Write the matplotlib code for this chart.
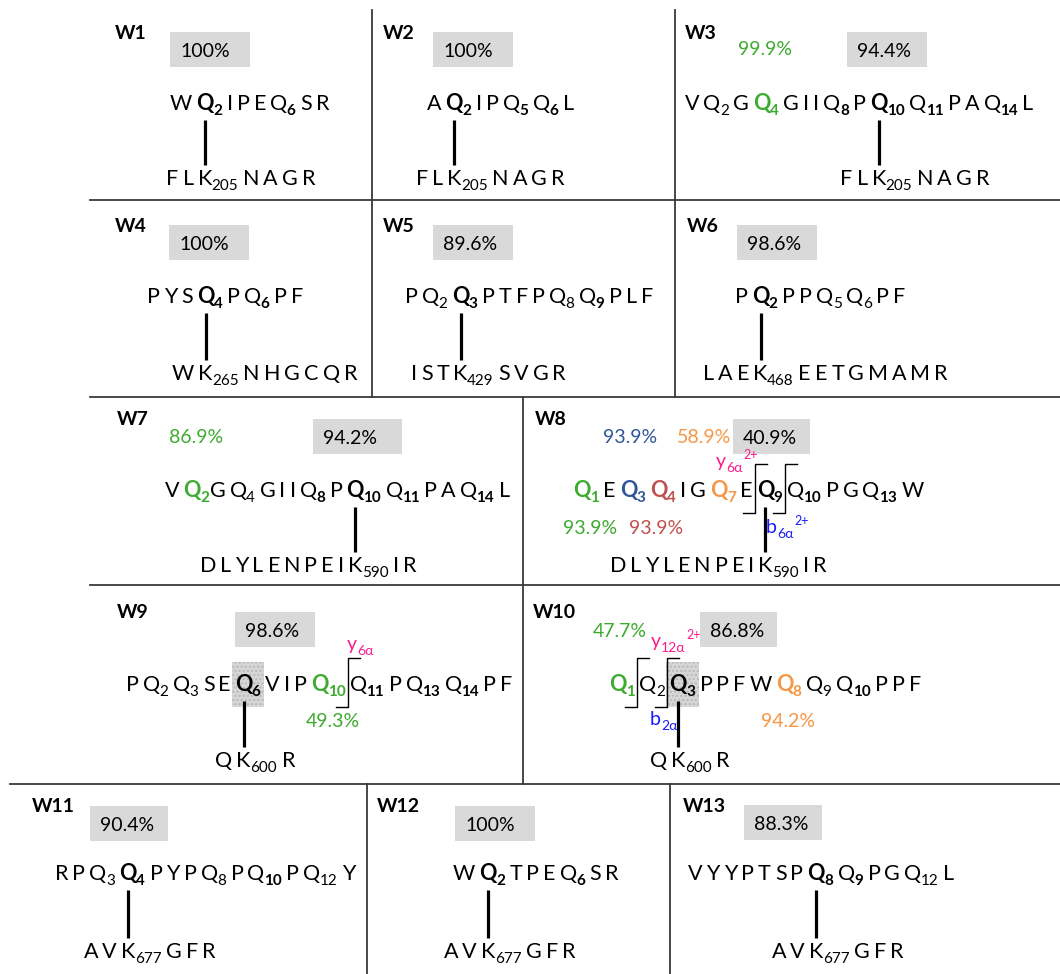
import matplotlib
matplotlib.use('Agg')
import matplotlib.pyplot as plt
from matplotlib.font_manager import FontProperties
from matplotlib.patches import Rectangle

FAMILY = ['Lato', 'DejaVu Sans']
plt.rcParams['font.family'] = FAMILY

COLORS = {'k': 'black', 'g': '#3dab2f', 'b': '#2f5597', 'r': '#c0504d',
          'o': '#f79646', 'p': '#ff1a8c', 'u': '#1a1aff'}

# ---- data ----
# token syntax: "!" bold residue, "_n" subscript, "=n" bold subscript, ":c" colour,
# "~" = no space after the token
panels = ['W1', 'W2', 'W3', 'W4', 'W5', 'W6', 'W7', 'W8', 'W9', 'W10', 'W11', 'W12', 'W13']
top_seqs = [
    'W !Q=2 I P E Q=6 S R',
    'A !Q=2 I P Q=5 Q=6 L',
    'V Q_2 G !Q=4:g G I I Q=8 P !Q=10 Q=11 P A Q=14 L',
    'P Y S !Q=4 P Q=6 P F',
    'P Q_2 !Q=3 P T F P Q_8 Q=9 P L F',
    'P !Q=2 P P Q_5 Q_6 P F',
    'V !Q=2:g~ G Q_4 G I I Q=8 P !Q=10 Q=11 P A Q=14 L',
    '!Q=1:g E !Q=3:b !Q=4:r I G !Q=7:o E !Q=9 Q=10 P G Q=13 W',
    'P Q_2 Q_3 S E !Q=6 V I P !Q=10:g Q=11 P Q=13 Q=14 P F',
    '!Q=1:g Q_2 !Q=3 P P F W !Q=8:o Q_9 Q=10 P P F',
    'R P Q_3 !Q=4 P Y P Q_8 P Q=10 P Q_12 Y',
    'W !Q=2 T P E Q=6 S R',
    'V Y Y P T S P !Q=8 Q=9 P G Q_12 L',
]
bottom_seqs = [
    'F L K_205 N A G R', 'F L K_205 N A G R', 'F L K_205 N A G R',
    'W K_265 N H G C Q R', 'I S T K_429 S V G R', 'L A E K_468 E E T G M A M R',
    'D L Y L E N P E I K_590 I R', 'D L Y L E N P E I K_590 I R',
    'Q K_600 R', 'Q K_600 R',
    'A V K_677 G F R', 'A V K_677 G F R', 'A V K_677 G F R',
]
top_link = [1, 1, 9, 3, 2, 1, 9, 8, 5, 2, 3, 1, 7]
bottom_link = [2, 2, 2, 1, 3, 3, 9, 9, 1, 1, 2, 2, 2]
box_values = ['100%', '100%', '94.4%', '100%', '89.6%', '98.6%', '94.2%',
              '40.9%', '98.6%', '86.8%', '90.4%', '100%', '88.3%']
# other site occupancies: (panel, text, colour)
site_values = [(2, '99.9%', 'g'), (6, '86.9%', 'g'), (7, '93.9%', 'b'), (7, '58.9%', 'o'),
               (7, '93.9%', 'g'), (7, '93.9%', 'r'), (8, '49.3%', 'g'),
               (9, '47.7%', 'g'), (9, '94.2%', 'o')]
# fragment ions: (panel, ion, subscript, superscript, colour)
ions = [(7, 'y', '6α', '2+', 'p'), (7, 'b', '6α', '2+', 'u'), (8, 'y', '6α', '', 'p'),
        (9, 'y', '12α', '2+', 'p'), (9, 'b', '2α', '', 'u')]
# cleavage marks: (panel, token index the cut follows)
cuts = [(7, 7), (7, 8), (8, 9), (9, 0), (9, 1)]
highlights = [(8, 5), (9, 2)]

# ---- layout (pixels) ----
label_xy = [(115, 39), (383, 39), (685, 39), (115, 232), (383, 232), (687, 232),
            (117, 425), (535, 425), (117, 618), (533, 618), (32, 812), (377, 812), (683, 812)]
box_xy = [(170, 32), (433, 32), (847, 32), (169, 225), (433, 225), (737, 225),
          (313, 419), (733, 419), (235, 612), (700, 612), (90, 806), (455, 806), (744, 805)]
box_w = [80, 80, 80, 80, 80, 80, 89, 77, 80, 77, 78, 80, 78]
seq_xy = [(170, 110), (427, 110), (685, 110), (147, 303), (405, 303), (735, 303),
          (165, 497), (573, 497), (126, 691), (609, 691), (55, 880), (453, 880), (688, 880)]
bottom_y = [185, 185, 185, 380, 380, 380, 572, 572, 767, 767, 958, 958, 958]
site_xy = [(738, 55), (169, 443), (603, 443), (677, 443), (563, 534), (629, 534),
           (306, 727), (593, 637), (761, 727)]
ion_xy = [(716, 467), (766, 533), (347, 650), (651, 647), (650, 725)]

SEQ, SUB, PCT, LAB = 15.5, 11, 14, 14
GAP = 4

fig = plt.figure(figsize=(10.6, 9.74), dpi=100)
ax = fig.add_axes([0, 0, 1, 1])
ax.set_xlim(0, 1060)
ax.set_ylim(974, 0)
ax.axis('off')
renderer = fig.canvas.get_renderer()


def width(s, size, bold=False):
    fp = FontProperties(family=FAMILY, size=size, weight='bold' if bold else 'normal')
    return renderer.get_text_width_height_descent(s, fp, ismath=False)[0]


def parse(tok):
    tight = tok.endswith('~')
    tok = tok.rstrip('~')
    color = 'k'
    if ':' in tok:
        tok, color = tok.split(':')
    bold = tok.startswith('!')
    tok = tok.lstrip('!')
    sub, subbold = '', False
    if '=' in tok:
        tok, sub = tok.split('=')
        subbold = True
    elif '_' in tok:
        tok, sub = tok.split('_')
    return tok, bold, sub, subbold, COLORS[color], tight


def place(seq):
    items, x = [], 0
    for tok in seq.split():
        letter, bold, sub, subbold, color, tight = parse(tok)
        wl = width(letter, SEQ, bold)
        ws = width(sub, SUB, subbold) if sub else 0
        items.append(dict(letter=letter, bold=bold, sub=sub, subbold=subbold,
                          color=color, x=x, wl=wl, ws=ws))
        x += wl + ws + (0 if tight else GAP)
    return items


def draw_seq(items, x0, y):
    for it in items:
        ax.text(x0 + it['x'], y, it['letter'], fontsize=SEQ, color=it['color'],
                fontweight='bold' if it['bold'] else 'normal', va='baseline', ha='left')
        if it['sub']:
            ax.text(x0 + it['x'] + it['wl'] - 0.5, y + 5, it['sub'], fontsize=SUB,
                    color=it['color'], fontweight='bold' if it['subbold'] else 'normal',
                    va='baseline', ha='left')


# grid
grid = dict(color='#3a3a3a', lw=1.3)
ax.plot([372, 372], [10, 397], **grid)
ax.plot([675, 675], [10, 397], **grid)
ax.plot([90, 1060], [200, 200], **grid)
ax.plot([90, 1060], [397, 397], **grid)
ax.plot([523, 523], [397, 784], **grid)
ax.plot([90, 1060], [585, 585], **grid)
ax.plot([10, 1060], [784, 784], **grid)
ax.plot([367, 367], [784, 974], **grid)
ax.plot([670, 670], [784, 974], **grid)

layouts = []
for i, name in enumerate(panels):
    ax.text(*label_xy[i], name, fontsize=LAB, fontweight='bold', va='baseline')
    bx, by = box_xy[i]
    ax.add_patch(Rectangle((bx, by), box_w[i], 35, facecolor='#d9d9d9', edgecolor='none'))
    ax.text(bx + 10, by + 25, box_values[i], fontsize=PCT, va='baseline')

    top = place(top_seqs[i])
    bot = place(bottom_seqs[i])
    x0, y0 = seq_xy[i]
    t = top[top_link[i]]
    lx = x0 + t['x'] + t['wl'] / 2
    b = bot[bottom_link[i]]
    bx0 = lx - (b['x'] + b['wl'] / 2)
    layouts.append((top, x0, y0))

    for p, k in highlights:
        if p == i:
            h = top[k]
            ax.add_patch(Rectangle((x0 + h['x'] - 3, y0 - 29), h['wl'] + h['ws'] + 6, 45,
                                   facecolor='#d6d6d6', edgecolor='#b8b8b8', lw=0,
                                   hatch='....'))
    draw_seq(top, x0, y0)
    draw_seq(bot, bx0, bottom_y[i])
    ax.plot([lx, lx], [y0 + 10, bottom_y[i] - 20], color='black', lw=2.3,
            solid_capstyle='butt')

for (p, txt, c), (x, y) in zip(site_values, site_xy):
    ax.text(x, y, txt, fontsize=PCT, color=COLORS[c], va='baseline')

for p, k in cuts:
    top, x0, y0 = layouts[p]
    a, nxt = top[k], top[k + 1]
    cx = x0 + (a['x'] + a['wl'] + a['ws'] + nxt['x']) / 2
    ax.plot([cx - 12, cx, cx, cx + 12], [y0 + 16, y0 + 16, y0 - 33, y0 - 33],
            color='black', lw=1.0)

for (p, ion, sub, sup, c), (x, y) in zip(ions, ion_xy):
    col = COLORS[c]
    ax.text(x, y, ion, fontsize=14, color=col, va='baseline')
    w = width(ion, 14)
    ax.text(x + w, y + 5, sub, fontsize=10, color=col, va='baseline')
    ws = width(sub, 10)
    if sup:
        ax.text(x + w + ws + 1, y - 8, sup, fontsize=9, color=col, va='baseline')

fig.savefig('out.png', dpi=100, facecolor='white')
